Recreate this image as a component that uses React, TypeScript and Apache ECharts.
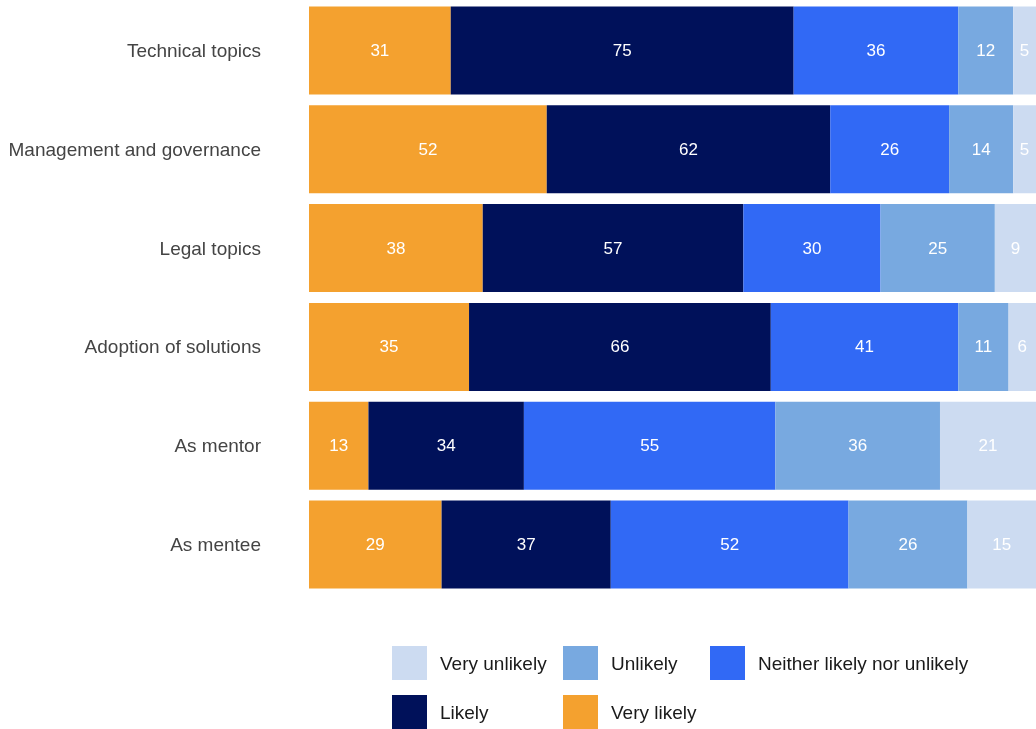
import React, { useEffect, useRef } from "react";
import * as echarts from "echarts";

const categories = [
  "Technical topics",
  "Management and governance",
  "Legal topics",
  "Adoption of solutions",
  "As mentor",
  "As mentee",
];
const veryLikely = [31, 52, 38, 35, 13, 29];
const likely = [75, 62, 57, 66, 34, 37];
const neither = [36, 26, 30, 41, 55, 52];
const unlikely = [12, 14, 25, 11, 36, 26];
const veryUnlikely = [5, 5, 9, 6, 21, 15];

const seriesDefs = [
  { name: "Very likely", data: veryLikely, color: "#F4A12F" },
  { name: "Likely", data: likely, color: "#00115A" },
  { name: "Neither likely nor unlikely", data: neither, color: "#3169F5" },
  { name: "Unlikely", data: unlikely, color: "#78A9E0" },
  { name: "Very unlikely", data: veryUnlikely, color: "#CCDBF1" },
];

const legendPos = [
  { name: "Very unlikely", left: 392, top: 646 },
  { name: "Unlikely", left: 563, top: 646 },
  { name: "Neither likely nor unlikely", left: 710, top: 646 },
  { name: "Likely", left: 392, top: 695 },
  { name: "Very likely", left: 563, top: 695 },
];

export default function App() {
  const ref = useRef<HTMLDivElement>(null);
  useEffect(() => {
    if (!ref.current) return;
    const chart = echarts.init(ref.current, null, { renderer: "svg" });
    const font = "Liberation Sans, Arial, sans-serif";
    chart.setOption({
      animation: false,
      textStyle: { fontFamily: font },
      grid: { left: 309, right: -2, top: 1, height: 593, containLabel: false },
      xAxis: { type: "value", min: 0, max: 159, show: false },
      yAxis: {
        type: "category",
        data: categories,
        inverse: true,
        axisLine: { show: false },
        axisTick: { show: false },
        axisLabel: { color: "#444444", fontSize: 19, margin: 48, fontFamily: font },
      },
      legend: legendPos.map((l) => ({
        data: [l.name],
        left: l.left,
        top: l.top,
        itemWidth: 35,
        itemHeight: 34,
        itemGap: 0,
        icon: "rect",
        selectedMode: false,
        textStyle: { color: "#1a1a1a", fontSize: 19, fontFamily: font, padding: [0, 0, 0, 8] },
        padding: 0,
      })),
      series: seriesDefs.map((s) => ({
        type: "bar",
        name: s.name,
        stack: "total",
        data: s.data,
        barWidth: "89%",
        itemStyle: { color: s.color },
        label: {
          show: true,
          position: "inside",
          color: "#ffffff",
          fontSize: 17,
          fontFamily: font,
        },
      })),
    });
    return () => chart.dispose();
  }, []);
  return (
    <div
      ref={ref}
      style={{ position: "fixed", left: 0, top: 0, width: 1036, height: 729 }}
    />
  );
}
